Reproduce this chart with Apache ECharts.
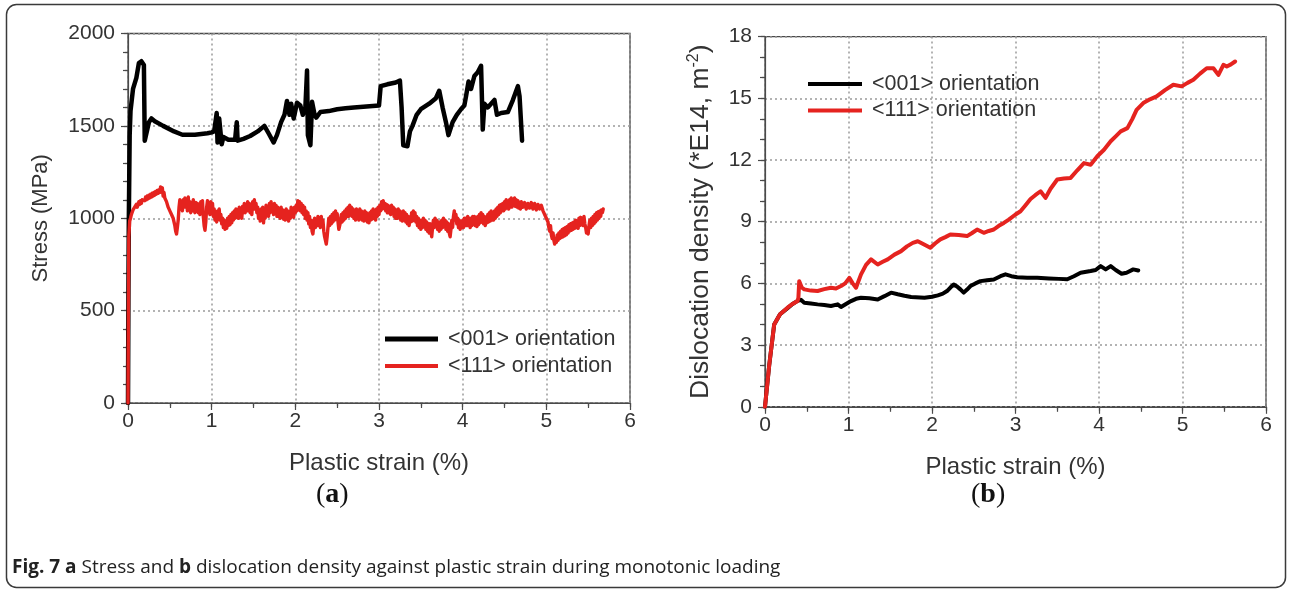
<!DOCTYPE html>
<html>
<head>
<meta charset="utf-8">
<script src="https://cdn.jsdelivr.net/npm/echarts@6/dist/echarts.min.js"></script>
<style>
html,body{margin:0;padding:0;background:#fff;}
#chart{width:1291px;height:590px;}
</style>
</head>
<body>
<div id="chart"></div>
<script>
// ---------- Data ----------
const seriesNames = ['<001> orientation', '<111> orientation'];

// (a) Stress (MPa) vs plastic strain (%)
const stress001 = [[0,0],[0.005,600],[0.01,1000],[0.02,1450],[0.03,1580],[0.06,1700],[0.10,1760],[0.13,1840],[0.16,1850],[0.19,1830],[0.20,1420],[0.22,1430],[0.25,1520],[0.28,1540],[0.32,1525],[0.42,1500],[0.55,1470],[0.65,1452],[0.80,1452],[0.95,1460],[1.0,1465],[1.03,1470],[1.06,1570],[1.07,1410],[1.09,1540],[1.11,1540],[1.12,1400],[1.14,1440],[1.2,1425],[1.28,1425],[1.3,1520],[1.31,1420],[1.38,1430],[1.46,1445],[1.55,1470],[1.63,1500],[1.68,1460],[1.74,1410],[1.78,1450],[1.83,1520],[1.87,1560],[1.9,1635],[1.93,1560],[1.95,1620],[1.98,1540],[2.02,1625],[2.06,1610],[2.09,1560],[2.12,1600],[2.14,1800],[2.15,1450],[2.18,1395],[2.2,1630],[2.23,1560],[2.25,1545],[2.3,1575],[2.4,1580],[2.5,1590],[2.6,1595],[2.7,1600],[2.85,1605],[3.0,1610],[3.02,1715],[3.1,1725],[3.2,1735],[3.25,1745],[3.27,1600],[3.29,1395],[3.34,1390],[3.37,1470],[3.4,1500],[3.45,1560],[3.5,1590],[3.6,1620],[3.68,1650],[3.72,1690],[3.76,1600],[3.8,1520],[3.83,1450],[3.88,1520],[3.93,1560],[3.98,1590],[4.02,1610],[4.04,1660],[4.07,1740],[4.1,1700],[4.14,1770],[4.18,1790],[4.22,1825],[4.24,1480],[4.26,1620],[4.3,1600],[4.38,1640],[4.41,1560],[4.46,1570],[4.54,1575],[4.6,1640],[4.66,1715],[4.68,1660],[4.71,1420]];

const stress111 = [[0,0],[0.005,500],[0.01,900],[0.02,985],[0.03,1000],[0.04,1020],[0.05,1010],[0.06,1045],[0.07,1035],[0.08,1060],[0.09,1050],[0.1,1075],[0.11,1060],[0.12,1070],[0.13,1090],[0.14,1075],[0.15,1095],[0.16,1080],[0.17,1100],[0.18,1090],[0.19,1110],[0.2,1095],[0.21,1115],[0.22,1100],[0.23,1120],[0.24,1105],[0.25,1125],[0.26,1110],[0.27,1130],[0.28,1115],[0.29,1135],[0.3,1120],[0.31,1140],[0.32,1125],[0.33,1145],[0.34,1130],[0.35,1150],[0.36,1135],[0.37,1155],[0.38,1140],[0.39,1170],[0.4,1150],[0.41,1165],[0.42,1120],[0.43,1140],[0.44,1110],[0.46,1090],[0.48,1060],[0.5,1040],[0.52,1020],[0.54,1000],[0.56,960],[0.57,930],[0.58,915],[0.59,950],[0.6,990],[0.61,1060],[0.62,1100],[0.63,1050],[0.64,1090],[0.65,1040],[0.66,1100],[0.67,1060],[0.68,1110],[0.69,1060],[0.7,1090],[0.71,1040],[0.72,1115],[0.73,1060],[0.74,1090],[0.75,1030],[0.76,1080],[0.77,1040],[0.78,1100],[0.79,1050],[0.8,1030],[0.81,1085],[0.82,1040],[0.83,1080],[0.84,1030],[0.85,1070],[0.86,1020],[0.87,1090],[0.88,1050],[0.89,1095],[0.9,1010],[0.91,960],[0.92,935],[0.93,980],[0.94,1060],[0.95,1095],[0.96,1030],[0.97,1070],[0.98,1020],[0.99,1090],[1.0,1040],[1.01,1080],[1.02,1010],[1.03,1050],[1.04,990],[1.05,1030],[1.06,980],[1.07,1040],[1.08,1000],[1.09,1050],[1.1,990],[1.11,1020],[1.12,970],[1.13,1000],[1.14,950],[1.15,990],[1.16,940],[1.17,980],[1.18,945],[1.19,1000],[1.2,960],[1.21,1010],[1.22,965],[1.23,1020],[1.24,975],[1.25,1030],[1.26,990],[1.27,1040],[1.28,1000],[1.29,1050],[1.3,1005],[1.31,1045],[1.32,1000],[1.33,1060],[1.34,1010],[1.35,1050],[1.36,1000],[1.37,1065],[1.38,1030],[1.39,1080],[1.4,1030],[1.41,1070],[1.42,1040],[1.43,1090],[1.44,1040],[1.45,1080],[1.46,1030],[1.47,1070],[1.48,1020],[1.49,1090],[1.5,1050],[1.51,1100],[1.52,1050],[1.53,1080],[1.54,1030],[1.55,1060],[1.56,1000],[1.57,1040],[1.58,985],[1.59,1050],[1.6,1000],[1.61,1060],[1.62,975],[1.63,1040],[1.64,1000],[1.65,1070],[1.66,1020],[1.67,1060],[1.68,1010],[1.69,1080],[1.7,1030],[1.71,1090],[1.72,1040],[1.73,1070],[1.74,1020],[1.75,1080],[1.76,1040],[1.77,1070],[1.78,1010],[1.79,1060],[1.8,1010],[1.81,1050],[1.82,1000],[1.83,1060],[1.84,1010],[1.85,1045],[1.86,995],[1.87,1040],[1.88,990],[1.89,1050],[1.9,1000],[1.91,1040],[1.92,985],[1.93,1030],[1.94,1000],[1.95,1060],[1.96,1010],[1.97,1050],[1.98,1005],[1.99,1060],[2.0,1030],[2.01,1070],[2.02,1040],[2.03,1095],[2.04,1050],[2.05,1090],[2.06,1040],[2.07,1080],[2.08,1030],[2.09,1070],[2.1,1020],[2.11,1060],[2.12,1000],[2.13,1040],[2.14,990],[2.15,1030],[2.16,970],[2.17,1010],[2.18,950],[2.19,990],[2.2,930],[2.21,915],[2.22,960],[2.23,1000],[2.24,950],[2.25,990],[2.26,960],[2.27,1010],[2.28,960],[2.29,1000],[2.3,950],[2.31,1010],[2.32,960],[2.33,990],[2.34,930],[2.35,900],[2.36,880],[2.37,860],[2.38,900],[2.39,950],[2.4,1000],[2.41,960],[2.42,1010],[2.43,970],[2.44,1020],[2.45,980],[2.46,1030],[2.47,990],[2.48,1040],[2.49,1000],[2.5,1025],[2.51,980],[2.52,940],[2.53,930],[2.54,980],[2.55,1020],[2.56,980],[2.57,1030],[2.58,990],[2.59,1040],[2.6,1000],[2.61,1050],[2.62,1010],[2.63,1060],[2.64,1010],[2.65,1070],[2.66,1020],[2.67,1060],[2.68,1010],[2.69,1050],[2.7,1000],[2.71,1040],[2.72,990],[2.73,1050],[2.74,1000],[2.75,1040],[2.76,990],[2.77,1050],[2.78,1000],[2.79,1040],[2.8,990],[2.81,1030],[2.82,985],[2.83,1040],[2.84,990],[2.85,1030],[2.86,980],[2.87,1020],[2.88,975],[2.89,1030],[2.9,990],[2.91,1040],[2.92,995],[2.93,1050],[2.94,1000],[2.95,1040],[2.96,990],[2.97,1050],[2.98,1010],[2.99,1060],[3.0,1020],[3.01,1070],[3.02,1040],[3.03,1090],[3.04,1050],[3.05,1095],[3.06,1060],[3.07,1080],[3.08,1040],[3.09,1075],[3.1,1030],[3.11,1070],[3.12,1030],[3.13,1060],[3.14,1020],[3.15,1070],[3.16,1030],[3.17,1060],[3.18,1010],[3.19,1050],[3.2,1000],[3.21,1040],[3.22,1000],[3.23,1050],[3.24,1010],[3.25,1040],[3.26,990],[3.27,1030],[3.28,985],[3.29,1040],[3.3,995],[3.31,1030],[3.32,980],[3.33,1020],[3.34,970],[3.35,1010],[3.36,960],[3.37,1000],[3.38,980],[3.39,1030],[3.4,985],[3.41,1040],[3.42,990],[3.43,1030],[3.44,980],[3.45,1010],[3.46,960],[3.47,1000],[3.48,950],[3.49,990],[3.5,940],[3.51,990],[3.52,950],[3.53,1000],[3.54,960],[3.55,990],[3.56,940],[3.57,980],[3.58,930],[3.59,970],[3.6,920],[3.61,970],[3.62,930],[3.63,900],[3.64,950],[3.65,990],[3.66,950],[3.67,1000],[3.68,960],[3.69,990],[3.7,940],[3.71,980],[3.72,930],[3.73,980],[3.74,940],[3.75,990],[3.76,950],[3.77,1000],[3.78,960],[3.79,990],[3.8,940],[3.81,980],[3.82,930],[3.83,970],[3.84,920],[3.85,900],[3.86,940],[3.87,990],[3.88,950],[3.89,1010],[3.9,1040],[3.91,990],[3.92,1020],[3.93,970],[3.94,1000],[3.95,950],[3.96,990],[3.97,940],[3.98,980],[3.99,950],[4.0,990],[4.01,950],[4.02,1000],[4.03,960],[4.04,1000],[4.05,960],[4.06,1010],[4.07,960],[4.08,1000],[4.09,950],[4.1,1000],[4.11,960],[4.12,1010],[4.13,970],[4.14,1010],[4.15,960],[4.16,1000],[4.17,955],[4.18,1010],[4.19,965],[4.2,1020],[4.21,975],[4.22,1030],[4.23,980],[4.24,1020],[4.25,970],[4.26,1010],[4.27,960],[4.28,1000],[4.29,975],[4.3,1020],[4.31,980],[4.32,1030],[4.33,985],[4.34,1040],[4.35,990],[4.36,1030],[4.37,990],[4.38,1040],[4.39,1000],[4.4,1050],[4.41,1010],[4.42,1060],[4.43,1020],[4.44,1070],[4.45,1030],[4.46,1075],[4.47,1040],[4.48,1080],[4.49,1040],[4.5,1090],[4.51,1050],[4.52,1100],[4.53,1060],[4.54,1090],[4.55,1050],[4.56,1100],[4.57,1060],[4.58,1110],[4.59,1060],[4.6,1100],[4.61,1070],[4.62,1110],[4.63,1065],[4.64,1100],[4.65,1060],[4.66,1095],[4.67,1055],[4.68,1085],[4.69,1050],[4.7,1090],[4.72,1060],[4.74,1085],[4.76,1050],[4.78,1080],[4.8,1055],[4.82,1085],[4.84,1050],[4.86,1080],[4.88,1045],[4.9,1075],[4.92,1050],[4.94,1070],[4.96,1040],[4.98,1030],[5.0,1000],[5.02,980],[5.03,950],[5.04,930],[5.05,960],[5.06,910],[5.07,890],[5.08,920],[5.09,880],[5.1,860],[5.11,890],[5.12,870],[5.13,910],[5.14,880],[5.15,920],[5.16,890],[5.17,930],[5.18,895],[5.19,940],[5.2,900],[5.21,945],[5.22,905],[5.23,950],[5.24,910],[5.25,955],[5.26,920],[5.27,965],[5.28,930],[5.29,970],[5.3,935],[5.31,975],[5.32,940],[5.33,980],[5.34,945],[5.35,990],[5.36,950],[5.37,985],[5.38,945],[5.39,1000],[5.4,960],[5.41,1005],[5.42,965],[5.43,1000],[5.44,960],[5.45,1010],[5.46,970],[5.47,950],[5.48,920],[5.49,940],[5.5,915],[5.51,960],[5.52,990],[5.53,950],[5.54,1000],[5.55,960],[5.56,1010],[5.57,970],[5.58,1020],[5.59,980],[5.6,1030],[5.61,990],[5.62,1035],[5.63,1000],[5.64,1040],[5.65,1010],[5.66,1045],[5.67,1030],[5.68,1050]];

// (b) Dislocation density (*E14 m^-2) vs plastic strain (%)
const density001 = [[0,0],[0.05,2.0],[0.11,4.0],[0.18,4.5],[0.27,4.8],[0.33,5.0],[0.39,5.15],[0.43,5.2],[0.47,5.06],[0.55,5.02],[0.63,4.98],[0.71,4.95],[0.79,4.9],[0.87,4.98],[0.91,4.85],[0.97,5.0],[1.03,5.14],[1.09,5.25],[1.15,5.3],[1.25,5.28],[1.35,5.22],[1.43,5.38],[1.51,5.55],[1.59,5.47],[1.67,5.4],[1.75,5.34],[1.91,5.3],[2.0,5.35],[2.07,5.42],[2.13,5.5],[2.18,5.63],[2.22,5.8],[2.26,5.95],[2.3,5.85],[2.34,5.71],[2.38,5.55],[2.42,5.7],[2.46,5.87],[2.52,6.0],[2.58,6.11],[2.66,6.15],[2.74,6.19],[2.82,6.35],[2.88,6.44],[2.95,6.35],[3.02,6.3],[3.14,6.28],[3.26,6.27],[3.4,6.24],[3.52,6.22],[3.62,6.2],[3.7,6.35],[3.78,6.52],[3.9,6.6],[3.96,6.65],[4.02,6.84],[4.08,6.68],[4.14,6.84],[4.2,6.65],[4.27,6.47],[4.33,6.52],[4.41,6.68],[4.47,6.63]];

const density111 = [[0,0],[0.05,2.0],[0.11,4.0],[0.18,4.5],[0.27,4.82],[0.33,5.0],[0.39,5.14],[0.4,5.3],[0.41,6.11],[0.44,5.8],[0.47,5.71],[0.55,5.65],[0.63,5.63],[0.71,5.72],[0.79,5.79],[0.85,5.75],[0.91,5.87],[0.96,6.0],[1.01,6.27],[1.05,6.0],[1.09,5.79],[1.15,6.44],[1.21,6.9],[1.27,7.17],[1.35,6.92],[1.41,7.05],[1.47,7.17],[1.55,7.4],[1.63,7.57],[1.7,7.8],[1.77,7.97],[1.83,8.05],[1.9,7.9],[1.98,7.73],[2.04,7.95],[2.1,8.14],[2.16,8.25],[2.22,8.38],[2.32,8.35],[2.42,8.3],[2.48,8.45],[2.54,8.62],[2.62,8.46],[2.68,8.55],[2.74,8.62],[2.8,8.8],[2.86,8.94],[2.92,9.1],[3.0,9.35],[3.06,9.51],[3.12,9.8],[3.18,10.1],[3.24,10.3],[3.3,10.48],[3.36,10.16],[3.42,10.6],[3.5,11.05],[3.58,11.1],[3.66,11.13],[3.74,11.5],[3.82,11.85],[3.9,11.77],[3.98,12.18],[4.06,12.5],[4.14,12.91],[4.2,13.15],[4.26,13.39],[4.34,13.55],[4.4,14.0],[4.45,14.44],[4.53,14.77],[4.61,14.95],[4.69,15.09],[4.79,15.4],[4.89,15.66],[4.99,15.58],[5.06,15.75],[5.13,15.9],[5.21,16.2],[5.29,16.46],[5.37,16.46],[5.43,16.14],[5.49,16.63],[5.53,16.55],[5.58,16.65],[5.63,16.79]];

const strainTicks = [0, 6, 1];      // min, max, interval
const stressTicks = [0, 2000, 500];
const densityTicks = [0, 18, 3];

const xName = 'Plastic strain (%)';
const yNameA = 'Stress (MPa)';
const yNameB = 'Dislocation density (*E14, m{sup|-2})';

// ---------- Styles ----------
const FONT = 'Liberation Sans, Arial, sans-serif';
const BLACK = '#000000';
const RED = '#e5231f';
const AXIS = '#4a4a4a';

function mainX(grid, nameGap) {
  return {
    type: 'value', gridIndex: grid, min: strainTicks[0], max: strainTicks[1], interval: strainTicks[2],
    name: xName, nameLocation: 'middle', nameGap: nameGap,
    nameTextStyle: {fontFamily: FONT, fontSize: 24, color: '#333'},
    axisLine: {show: true, onZero: false, lineStyle: {color: AXIS, width: 1.2}},
    axisTick: {show: true, inside: false, length: 7, lineStyle: {color: AXIS, width: 1.2}},
    minorTick: {show: true, splitNumber: 2, length: 5, lineStyle: {color: AXIS, width: 1.2}},
    axisLabel: {fontFamily: FONT, fontSize: 21, color: '#333', margin: 8, formatter: v => String(v)},
    splitLine: {show: true, lineStyle: {color: '#9a9a9a', width: 1.5, type: [2, 3]}},
    minorSplitLine: {show: false}
  };
}
function innerX(grid) {
  return {
    type: 'value', gridIndex: grid, min: strainTicks[0], max: strainTicks[1], interval: strainTicks[2],
    axisLine: {show: false}, axisLabel: {show: false}, splitLine: {show: false},
    axisTick: {show: true, inside: true, length: 4, lineStyle: {color: AXIS, width: 1.2}},
    minorTick: {show: true, splitNumber: 2, length: 3, lineStyle: {color: AXIS, width: 1.2}}
  };
}
function mainY(grid, ticks, minorSplit, name, nameGap, fontSize, rich) {
  return {
    type: 'value', gridIndex: grid, min: ticks[0], max: ticks[1], interval: ticks[2],
    name: name, nameLocation: 'middle', nameGap: nameGap,
    nameTextStyle: {fontFamily: FONT, fontSize: fontSize, color: '#333', lineHeight: 30, rich: rich || {}},
    axisLine: {show: true, onZero: false, lineStyle: {color: AXIS, width: 1.2}},
    axisTick: {show: true, inside: false, length: 7, lineStyle: {color: AXIS, width: 1.2}},
    minorTick: {show: true, splitNumber: minorSplit, length: 5, lineStyle: {color: AXIS, width: 1.2}},
    axisLabel: {fontFamily: FONT, fontSize: 21, color: '#333', margin: 13, formatter: v => String(v)},
    splitLine: {show: true, lineStyle: {color: '#9a9a9a', width: 1.5, type: [2, 3]}},
    minorSplitLine: {show: false}
  };
}
function innerY(grid, ticks, minorSplit) {
  return {
    type: 'value', gridIndex: grid, min: ticks[0], max: ticks[1], interval: ticks[2],
    axisLine: {show: false}, axisLabel: {show: false}, splitLine: {show: false},
    axisTick: {show: true, inside: true, length: 4, lineStyle: {color: AXIS, width: 1.2}},
    minorTick: {show: true, splitNumber: minorSplit, length: 3, lineStyle: {color: AXIS, width: 1.2}}
  };
}
function lineSeries(name, data, xi, yi, color, width) {
  return {
    type: 'line', name: name, data: data, xAxisIndex: xi, yAxisIndex: yi,
    showSymbol: false, symbol: 'none', smooth: false, animation: false, sampling: null,
    itemStyle: {color: color}, lineStyle: {color: color, width: width, join: 'round', cap: 'round'},
    z: color === RED ? 3 : 2
  };
}
const legendText = {fontFamily: FONT, fontSize: 21.5, color: '#333', padding: [0, 0, 0, 5]};

const option = {
  backgroundColor: '#fff',
  animation: false,
  grid: [
    {left: 128, top: 33.5, width: 502, height: 369.5, show: true, borderColor: '#4a4a4a', borderWidth: 1.4, backgroundColor: 'transparent'},
    {left: 765, top: 36.6, width: 501, height: 370.2, show: true, borderColor: '#4a4a4a', borderWidth: 1.4, backgroundColor: 'transparent'}
  ],
  xAxis: [mainX(0, 48), innerX(0), mainX(1, 49), innerX(1)],
  yAxis: [
    mainY(0, stressTicks, 5, yNameA, 72, 22),
    innerY(0, stressTicks, 5),
    mainY(1, densityTicks, 3, yNameB, 49, 26.5, {sup: {fontFamily: FONT, fontSize: 16, color: '#333', verticalAlign: 'top', lineHeight: 14}}),
    innerY(1, densityTicks, 3)
  ],
  legend: [
    {
      orient: 'vertical', left: 380, top: 323, itemWidth: 53, itemHeight: 5, itemGap: 5,
      itemStyle: {borderWidth: 0}, textStyle: legendText, selectedMode: false,
      data: [
        {name: seriesNames[0], icon: 'path://M0,0H53V5H0Z'},
        {name: seriesNames[1], icon: 'path://M0,0.5H53V4.5H0Z'}
      ]
    },
    {
      orient: 'vertical', left: 803, top: 68, itemWidth: 54, itemHeight: 4, itemGap: 4.5,
      itemStyle: {borderWidth: 0}, textStyle: legendText, selectedMode: false,
      data: [
        {name: seriesNames[0], icon: 'rect'},
        {name: seriesNames[1], icon: 'rect'}
      ]
    }
  ],
  series: [
    lineSeries(seriesNames[0], stress001, 0, 0, BLACK, 4.5),
    lineSeries(seriesNames[1], stress111, 0, 0, RED, 3.4),
    lineSeries(seriesNames[0], density001, 2, 2, BLACK, 4),
    lineSeries(seriesNames[1], density111, 2, 2, RED, 4)
  ],
  graphic: [
    {type: 'rect', silent: true, z: -1, shape: {x: 6.5, y: 4.5, width: 1279, height: 583, r: 10},
     style: {fill: 'none', stroke: '#3a3a3a', lineWidth: 1.5}},
    {type: 'text', left: 316, top: 481, silent: true,
     style: {text: '({b|a})', font: '28px "Liberation Serif", serif', fill: '#111',
       rich: {b: {fontFamily: 'Liberation Serif', fontWeight: 'bold', fontSize: 28, fill: '#111'}}}},
    {type: 'text', left: 971, top: 481, silent: true,
     style: {text: '({b|b})', font: '28px "Liberation Serif", serif', fill: '#111',
       rich: {b: {fontFamily: 'Liberation Serif', fontWeight: 'bold', fontSize: 28, fill: '#111'}}}},
    {type: 'text', left: 12, top: 558, silent: true,
     style: {
       text: '{b|Fig. 7 a} Stress and {b|b} dislocation density against plastic strain during monotonic loading',
       font: '19px "Open Sans", sans-serif', fill: '#222',
       rich: {b: {fontFamily: 'Open Sans', fontWeight: 'bold', fontSize: 19, fill: '#222'}}
     }}
  ]
};

const chart = echarts.init(document.getElementById('chart'), null, {renderer: 'canvas'});
chart.setOption(option);
</script>
</body>
</html>
